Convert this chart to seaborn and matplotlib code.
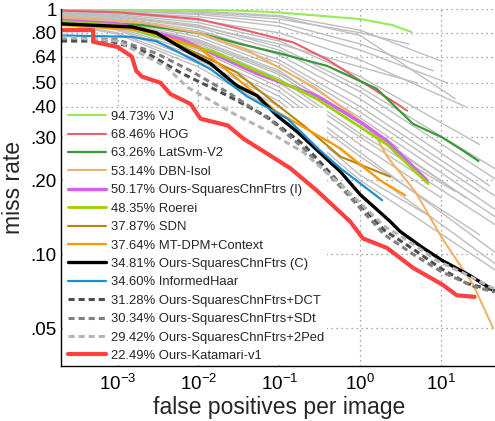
import matplotlib
matplotlib.use("Agg")
import matplotlib.pyplot as plt
import numpy as np
import pandas as pd
import seaborn as sns
from matplotlib.ticker import NullLocator, FixedLocator, FixedFormatter

# ---------------- data ----------------
vj_fppi = [2e-4, 0.003, 0.03, 0.09, 0.3, 1.0, 2.5, 4.3]
vj_mr = [1.0, 0.995, 0.985, 0.97, 0.94, 0.91, 0.86, 0.806]

hog_fppi = [2e-4, 0.001, 0.01, 0.044, 0.15, 0.4, 1.0, 2.86, 3.8]
hog_mr = [0.985, 0.97, 0.91, 0.81, 0.73, 0.62, 0.51, 0.41, 0.385]

latsvm_fppi = [2e-4, 0.002, 0.01, 0.033, 0.1, 0.39, 1.6, 4.5, 10.2, 17, 29]
latsvm_mr = [0.89, 0.86, 0.80, 0.72, 0.66, 0.586, 0.473, 0.34, 0.30, 0.27, 0.24]

dbn_fppi = [2e-4, 0.002, 0.01, 0.04, 0.27, 1.44, 2.15, 4.8, 10.5, 25, 44]
dbn_mr = [0.93, 0.88, 0.80, 0.68, 0.48, 0.32, 0.25, 0.18, 0.115, 0.075, 0.05]

oursI_fppi = [2e-4, 0.001, 0.006, 0.053, 0.29, 1.09, 2.15, 6.7]
oursI_mr = [0.90, 0.87, 0.755, 0.545, 0.443, 0.34, 0.29, 0.20]

roerei_fppi = [2e-4, 0.001, 0.015, 0.137, 0.29, 1.0, 2.15, 6.9]
roerei_mr = [0.89, 0.86, 0.67, 0.486, 0.43, 0.33, 0.28, 0.194]

sdn_fppi = [2e-4, 0.002, 0.015, 0.03, 0.1, 0.2, 0.57, 2.35]
sdn_mr = [0.87, 0.84, 0.615, 0.55, 0.40, 0.335, 0.25, 0.207]

mtdpm_fppi = [2e-4, 0.002, 0.01, 0.03, 0.094, 0.57, 1.77, 3.6]
mtdpm_mr = [0.86, 0.82, 0.70, 0.52, 0.38, 0.27, 0.20, 0.174]

oursC_fppi = [2e-4, 0.0015, 0.003, 0.008, 0.014, 0.03, 0.053, 0.094, 0.166,
              0.57, 1.0, 2.35, 3.1, 6.0, 10.5, 22.6, 45]
oursC_mr = [0.87, 0.845, 0.80, 0.66, 0.60, 0.486, 0.443, 0.367, 0.316,
            0.217, 0.175, 0.136, 0.124, 0.106, 0.094, 0.082, 0.071]

informed_fppi = [2e-4, 0.0015, 0.003, 0.006, 0.014, 0.04, 0.126, 0.3, 0.57, 1.87]
informed_mr = [0.78, 0.77, 0.74, 0.66, 0.57, 0.44, 0.357, 0.27, 0.224, 0.166]

dct_fppi = [2e-4, 0.0008, 0.002, 0.006, 0.023, 0.07, 0.2, 0.6, 2.0, 4.5, 9.7, 20.9, 46]
dct_mr = [0.74, 0.74, 0.68, 0.55, 0.443, 0.364, 0.28, 0.19, 0.125, 0.105, 0.088, 0.076, 0.071]

sdt_fppi = [2e-4, 0.001, 0.003, 0.008, 0.025, 0.08, 0.2, 0.6, 2.0, 4.5, 10, 25, 46]
sdt_mr = [0.76, 0.75, 0.66, 0.56, 0.45, 0.35, 0.27, 0.185, 0.12, 0.10, 0.085, 0.074, 0.07]

ped2_fppi = [2e-4, 0.001, 0.004, 0.0073, 0.025, 0.063, 0.2, 0.6, 2.0, 4.5, 9, 20, 46]
ped2_mr = [0.77, 0.74, 0.58, 0.48, 0.38, 0.325, 0.26, 0.19, 0.13, 0.11, 0.094, 0.083, 0.072]

kata_fppi = [2e-4, 0.0005, 0.0005, 0.001, 0.0015, 0.0017, 0.002, 0.0034, 0.0045,
             0.008, 0.0106, 0.023, 0.036, 0.137, 0.29, 0.75, 1.08, 2.15, 4.5,
             10.5, 15.6, 26]
kata_mr = [0.82, 0.82, 0.735, 0.70, 0.64, 0.56, 0.53, 0.50, 0.45,
           0.41, 0.357, 0.335, 0.296, 0.224, 0.182, 0.136, 0.116, 0.106, 0.088,
           0.075, 0.068, 0.067]

# background (gray) methods: miss rate at shared fppi anchors + end point
gray_fppi_anchor = [2e-4, 1e-3, 1e-2, 1e-1, 1.0]
gray_mr = [
    [1.00, 0.995, 0.98, 0.94, 0.82],
    [1.00, 0.99, 0.97, 0.93, 0.78],
    [0.99, 0.98, 0.95, 0.88, 0.72],
    [0.99, 0.97, 0.93, 0.85, 0.68],
    [0.98, 0.96, 0.90, 0.80, 0.62],
    [0.99, 0.98, 0.96, 0.91, 0.80],
    [0.96, 0.93, 0.85, 0.72, 0.58],
    [0.97, 0.95, 0.88, 0.74, 0.53],
    [0.97, 0.94, 0.86, 0.70, 0.48],
    [0.96, 0.93, 0.84, 0.68, 0.46],
    [0.96, 0.92, 0.82, 0.65, 0.43],
    [0.95, 0.91, 0.80, 0.62, 0.40],
    [0.95, 0.90, 0.79, 0.60, 0.38],
    [0.94, 0.90, 0.77, 0.58, 0.36],
    [0.94, 0.89, 0.75, 0.56, 0.34],
    [0.93, 0.88, 0.73, 0.54, 0.33],
    [0.92, 0.87, 0.72, 0.52, 0.31],
    [0.92, 0.88, 0.74, 0.55, 0.35],
    [0.92, 0.86, 0.70, 0.50, 0.30],
    [0.91, 0.85, 0.68, 0.48, 0.28],
    [0.90, 0.84, 0.66, 0.46, 0.26],
    [0.90, 0.83, 0.64, 0.44, 0.25],
    [0.89, 0.82, 0.62, 0.42, 0.23],
    [0.88, 0.80, 0.60, 0.40, 0.21],
    [0.87, 0.79, 0.58, 0.38, 0.20],
]
gray_end_fppi = [9.8, 15, 8, 12, 20, 4, 5, 30, 50, 50, 40, 50, 30, 50, 20,
                 50, 15, 3, 50, 10, 50, 30, 50, 8, 50]
gray_end_mr = [0.615, 0.43, 0.56, 0.50, 0.40, 0.72, 0.50, 0.28, 0.22, 0.20,
               0.19, 0.17, 0.18, 0.15, 0.17, 0.14, 0.18, 0.27, 0.13, 0.17,
               0.10, 0.12, 0.09, 0.14, 0.085]

labels = ["94.73% VJ", "68.46% HOG", "63.26% LatSvm-V2", "53.14% DBN-Isol",
          "50.17% Ours-SquaresChnFtrs (I)", "48.35% Roerei", "37.87% SDN",
          "37.64% MT-DPM+Context", "34.81% Ours-SquaresChnFtrs (C)",
          "34.60% InformedHaar", "31.28% Ours-SquaresChnFtrs+DCT",
          "30.34% Ours-SquaresChnFtrs+SDt", "29.42% Ours-SquaresChnFtrs+2Ped",
          "22.49% Ours-Katamari-v1"]

y_ticks = [0.05, 0.10, 0.20, 0.30, 0.40, 0.50, 0.64, 0.80, 1.0]
y_ticklabels = [".05", ".10", ".20", ".30", ".40", ".50", ".64", ".80", "1"]
x_ticks = [1e-3, 1e-2, 1e-1, 1e0, 1e1]
x_ticklabels = [r"$\mathregular{10^{-3}}$", r"$\mathregular{10^{-2}}$",
                r"$\mathregular{10^{-1}}$", r"$\mathregular{10^{0}}$",
                r"$\mathregular{10^{1}}$"]

# ---------------- style ----------------
sns.set_style("white")
plt.rcParams["font.family"] = ["Liberation Sans", "DejaVu Sans"]
plt.rcParams["mathtext.fontset"] = "custom"
plt.rcParams["mathtext.rm"] = "Liberation Sans"
plt.rcParams["mathtext.it"] = "Liberation Sans:italic"
plt.rcParams["mathtext.bf"] = "Liberation Sans:bold"

fig = plt.figure(figsize=(4.95, 4.21), dpi=100)
ax = fig.add_axes([61 / 495, 55 / 421, 436.6 / 495, 357 / 421])
ax.set_xscale("log")
ax.set_yscale("log")

def draw(fppi, mr, color, lw, ls="-", label=None, z=2):
    df = pd.DataFrame({"fppi": fppi, "mr": mr})
    sns.lineplot(data=df, x="fppi", y="mr", ax=ax, color=color, linewidth=lw,
                 linestyle=ls, sort=False, estimator=None, label=label,
                 legend=False, zorder=z)

for row, ef, em in zip(gray_mr, gray_end_fppi, gray_end_mr):
    draw(gray_fppi_anchor + [ef], row + [em], "#BEBEBE", 1.0, z=1.5)

dash = (0, (2.0, 1.3))
named = [
    (vj_fppi, vj_mr, "#96EC58", 1.5, "-"),
    (hog_fppi, hog_mr, "#E8606E", 1.5, "-"),
    (latsvm_fppi, latsvm_mr, "#3A9A3A", 1.6, "-"),
    (dbn_fppi, dbn_mr, "#F2B266", 1.5, "-"),
    (oursI_fppi, oursI_mr, "#D660F0", 2.4, "-"),
    (roerei_fppi, roerei_mr, "#99D400", 2.0, "-"),
    (sdn_fppi, sdn_mr, "#B8860B", 1.5, "-"),
    (mtdpm_fppi, mtdpm_mr, "#FF9900", 1.6, "-"),
    (oursC_fppi, oursC_mr, "#000000", 2.4, "-"),
    (informed_fppi, informed_mr, "#1E8ECF", 1.6, "-"),
    (dct_fppi, dct_mr, "#4D4D4D", 2.2, dash),
    (sdt_fppi, sdt_mr, "#808080", 2.2, dash),
    (ped2_fppi, ped2_mr, "#B5B5B5", 2.2, dash),
    (kata_fppi, kata_mr, "#FF4040", 3.0, "-"),
]
for (f, m, c, lw, ls), lab in zip(named, labels):
    draw(f, m, c, lw, ls, label=lab, z=2)

ax.set_xlim(2e-4, 50)
ax.set_ylim(0.035, 1.0)
ax.yaxis.set_major_locator(FixedLocator(y_ticks))
ax.yaxis.set_major_formatter(FixedFormatter(y_ticklabels))
ax.yaxis.set_minor_locator(NullLocator())
ax.xaxis.set_major_locator(FixedLocator(x_ticks))
ax.xaxis.set_major_formatter(FixedFormatter(x_ticklabels))
ax.xaxis.set_minor_locator(NullLocator())

ax.grid(True, which="major", color="#8A8A8A", linestyle=(0, (1, 3)), linewidth=0.9)
ax.set_axisbelow(True)
for s in ["top", "right"]:
    ax.spines[s].set_visible(False)
for s in ["left", "bottom"]:
    ax.spines[s].set_color("black")
    ax.spines[s].set_linewidth(1.0)

ax.tick_params(axis="both", direction="in", length=3, width=0.8, colors="black",
               labelsize=13.5)
ax.tick_params(axis="y", pad=3)
ax.tick_params(axis="x", pad=6)

ax.set_xlabel("false positives per image", fontsize=16.5)
ax.set_ylabel("miss rate", fontsize=16.5)
ax.xaxis.set_label_coords(0.5, -0.085)
ax.yaxis.set_label_coords(-0.083, 0.5)

handles, labs = ax.get_legend_handles_labels()
leg = ax.legend(handles, labs, loc="lower left", bbox_to_anchor=(0.01, 0.004),
                borderaxespad=0, fontsize=9.4, handlelength=2.9,
                handletextpad=0.4, labelspacing=0.48, borderpad=0.2,
                frameon=True, fancybox=False)
leg.get_frame().set_facecolor("white")
leg.get_frame().set_edgecolor("none")
leg.get_frame().set_alpha(1.0)
leg.set_zorder(1.8)

fig.savefig("out.png", dpi=100)
